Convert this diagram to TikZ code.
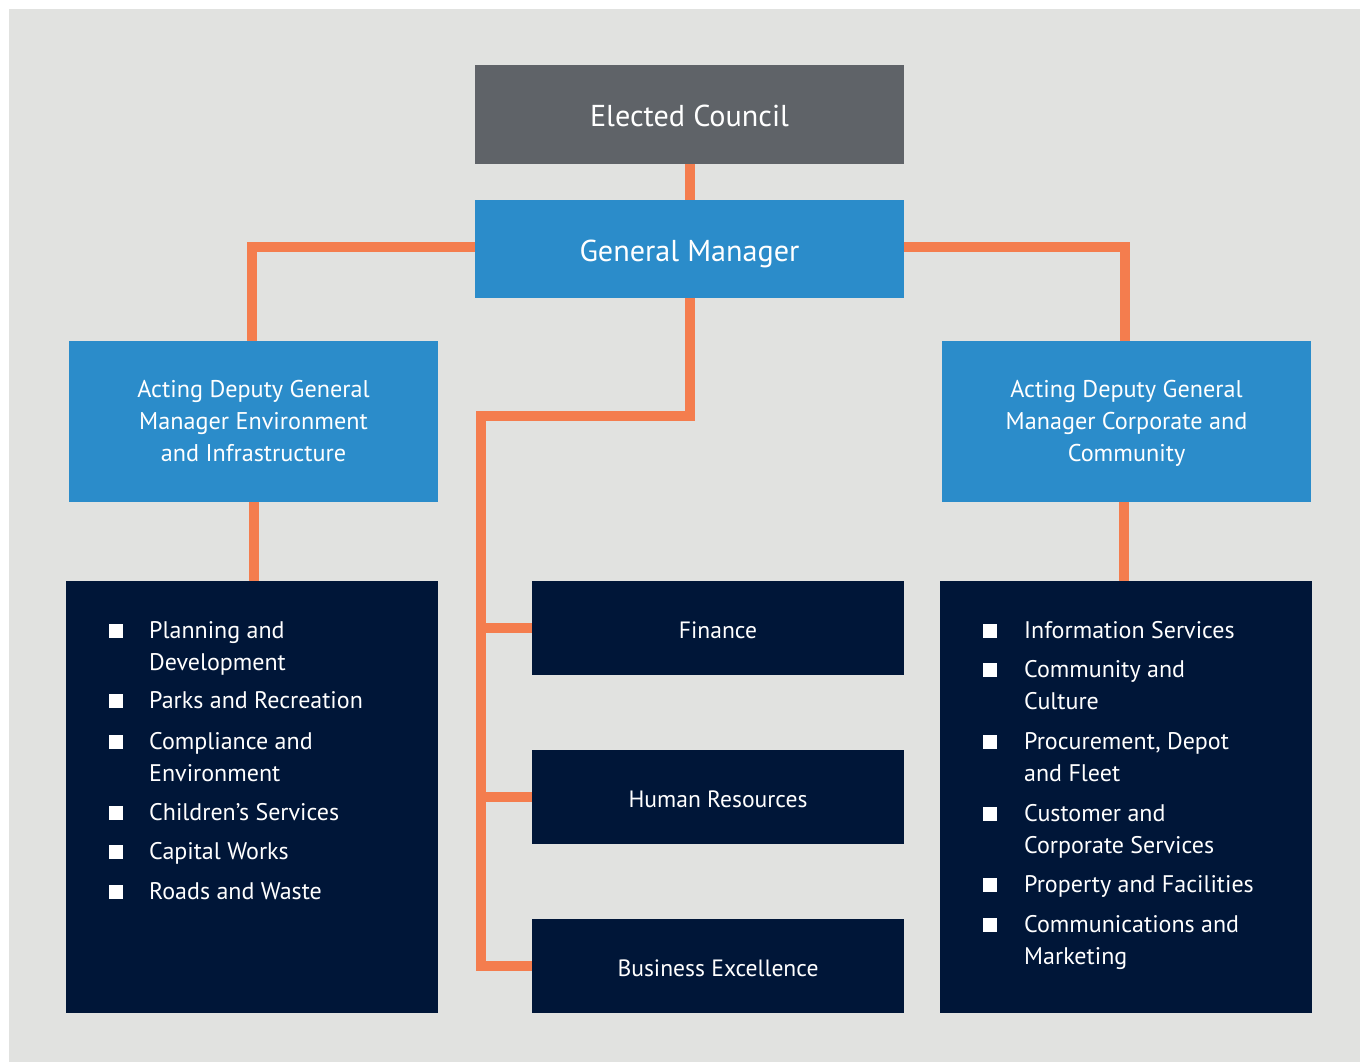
\documentclass[tikz,border=0pt]{standalone}
\usepackage{fontspec}
\setmainfont{PT Sans}
\usetikzlibrary{backgrounds}
\definecolor{bgc}{HTML}{E1E2E0}
\definecolor{ecg}{HTML}{5F6368}
\definecolor{blu}{HTML}{2B8CCA}
\definecolor{nav}{HTML}{001638}
\definecolor{org}{HTML}{F47D4E}
\begin{document}
\begin{tikzpicture}[x=1pt,y=-1pt,
  box/.style={rectangle, inner sep=0pt, outer sep=0pt},
  topbox/.style={box, fill=ecg, minimum width=429pt, minimum height=99pt},
  gmbox/.style={box, fill=blu, minimum width=429pt, minimum height=98pt},
  depbox/.style={box, fill=blu, minimum width=369pt, minimum height=161pt},
  listbox/.style={box, fill=nav, minimum width=372pt, minimum height=432pt},
  unitbox/.style={box, fill=nav, minimum width=372pt, minimum height=94pt},
  txt/.style={anchor=base, inner sep=0pt, text=white, align=center},
  bigtxt/.style={txt, font=\fontsize{30.2}{36}\selectfont},
  deptxt/.style={txt, font=\fontsize{24.2}{32}\selectfont},
  unittxt/.style={txt, font=\fontsize{23.6}{32}\selectfont},
  item/.style={anchor=base west, inner sep=0pt, text=white, align=left, font=\fontsize{24}{32}\selectfont},
  link/.style={draw=org, line width=10pt, line join=miter}
]
\useasboundingbox (0,0) rectangle (1360,1062);

\node[topbox] (ec) at (689.5,114.5) {};
\node[gmbox] (gm) at (689.5,249) {};
\node[depbox] (adl) at (253.5,421.5) {};
\node[depbox] (adr) at (1126.5,421.5) {};
\node[listbox] (ll) at (252,797) {};
\node[listbox] (rl) at (1126,797) {};
\node[unitbox] (fin) at (718,628) {};
\node[unitbox] (hr) at (718,797) {};
\node[unitbox] (be) at (718,966) {};

\node[bigtxt] (ect) at (689.5,127) {Elected Council};
\node[bigtxt] (gmt) at (689.5,261) {General Manager};
\node[deptxt] (adlt) at (253.5,461) {Acting Deputy General\\Manager Environment\\and Infrastructure};
\node[deptxt] (adrt) at (1126.5,461) {Acting Deputy General\\Manager Corporate and\\Community};
\node[unittxt] (fint) at (718,638) {Finance};
\node[unittxt] (hrt) at (718,807) {Human Resources};
\node[unittxt] (bet) at (718,976) {Business Excellence};

% left list
\foreach \b in {638,708,749,820,859,899}
  \fill[white] (109,\b-14) rectangle (123,\b);
\node[item] (l1) at (149,670) {Planning and\\Development};
\node[item] (l2) at (149,708) {Parks and Recreation};
\node[item] (l3) at (149,781) {Compliance and\\Environment};
\node[item] (l4) at (149,820) {Children’s Services};
\node[item] (l5) at (149,859) {Capital Works};
\node[item] (l6) at (149,899) {Roads and Waste};

% right list
\foreach \b in {638,677,749,821,892,932}
  \fill[white] (983,\b-14) rectangle (997,\b);
\node[item] (r1) at (1024,638) {Information Services};
\node[item] (r2) at (1024,709) {Community and\\Culture};
\node[item] (r3) at (1024,781) {Procurement, Depot\\and Fleet};
\node[item] (r4) at (1024,853) {Customer and\\Corporate Services};
\node[item] (r5) at (1024,892) {Property and Facilities};
\node[item] (r6) at (1024,964) {Communications and\\Marketing};

\begin{pgfonlayer}{background}
  \fill[bgc] (9,9) rectangle (1360,1062);
  \coordinate (gl) at (252,247);
  \coordinate (gr) at (1125,247);
  \coordinate (tr) at (481,416);
  \draw[link] (ec.south) -- (gm.north);
  \draw[link] (gm.west |- gl) -- (gl) -- (gl |- adl.north);
  \draw[link] (gm.east |- gr) -- (gr) -- (gr |- adr.north);
  \draw[link] (adl.south) -- (adl.south |- ll.north);
  \draw[link] ([xshift=-3pt]adr.south) -- ([xshift=-3pt]adr.south |- rl.north);
  \draw[link] (gm.south) |- (tr) |- (be.west);
  \draw[link] (tr |- fin.west) -- (fin.west);
  \draw[link] (tr |- hr.west) -- (hr.west);
\end{pgfonlayer}
\end{tikzpicture}
\end{document}
